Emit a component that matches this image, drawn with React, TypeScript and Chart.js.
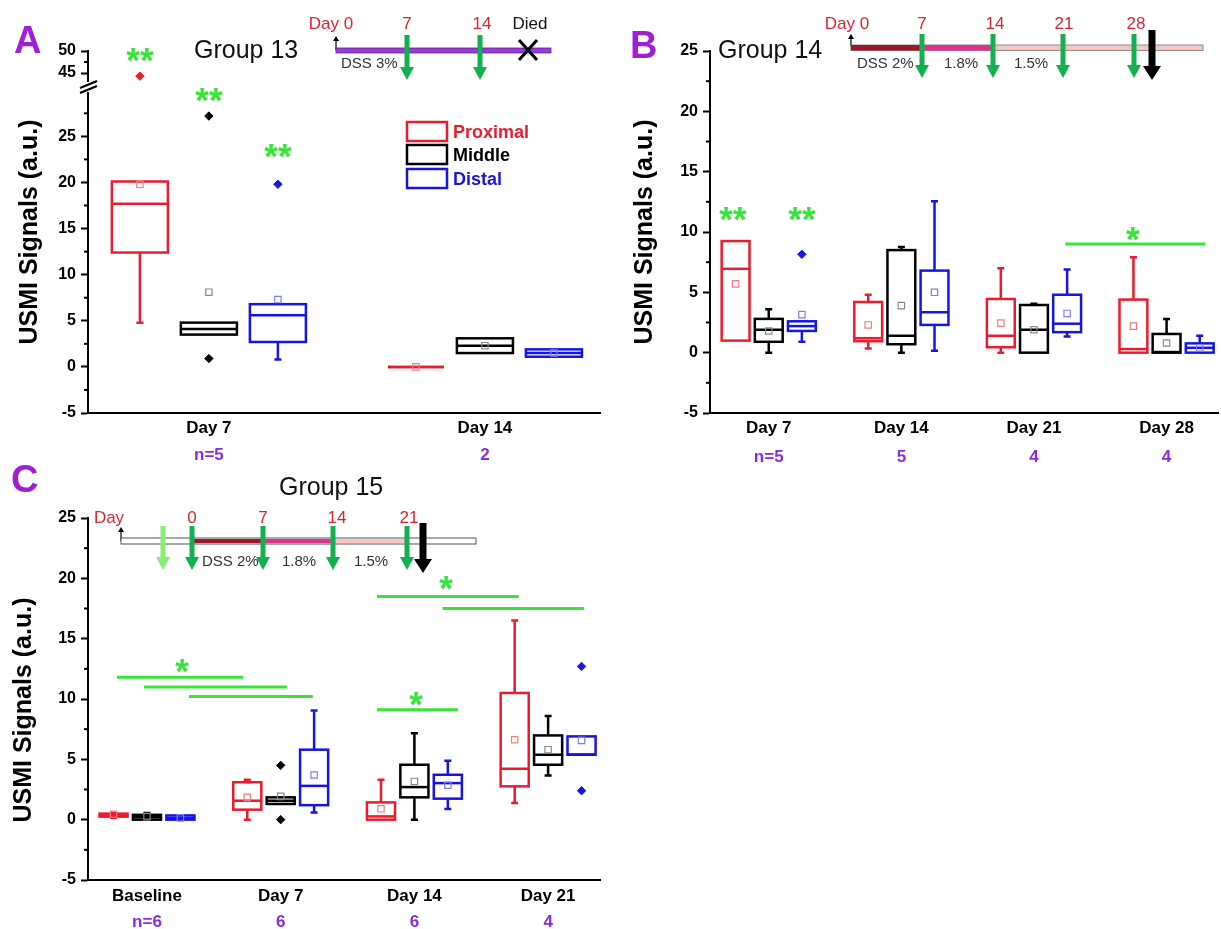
import React, { useEffect, useRef } from 'react';
import { Chart, registerables } from 'chart.js';

Chart.register(...registerables);

const FONT = "'Liberation Sans', Arial, Helvetica, sans-serif";

const seriesNames = ['Proximal', 'Middle', 'Distal'];
const seriesColors = ['#ec1b2e', '#000000', '#1515e8'];
const meanColors = ['#f27b86', '#8a8a8a', '#7f7ff0'];
const seriesOffsets = [-0.25, 0, 0.25];
const SIG_GREEN = '#36e636';
const N_PURPLE = '#8a2be2';
const LETTER_PURPLE = '#a21ed4';
const TL_RED = '#d9252f';
const ARROW_GREEN = '#12b04f';
const LIGHT_GREEN = '#88ee70';

// Box stats per category: [lower whisker, Q1, median, Q3, upper whisker, mean]
// ---- Panel A: Group 13
const categoriesA = ['Day 7', 'Day 14'];
const countsA = ['n=5', '2'];
const proximalA = [[4.8, 12.4, 17.7, 20.1, 20.1, 19.8], [0, 0, 0, 0, 0, 0]];
const middleA = [[3.5, 3.5, 4.1, 4.8, 4.8, 8.1], [1.5, 1.5, 2.3, 3.1, 3.1, 2.3]];
const distalA = [[0.8, 2.7, 5.6, 6.8, 6.8, 7.3], [1.1, 1.1, 1.5, 1.9, 1.9, 1.5]];
// outliers: [category (1-based), value]
const proximalOutliersA = [[1, 44.3]];
const middleOutliersA = [[1, 27.2], [1, 0.9]];
const distalOutliersA = [[1, 19.8]];
const yTicksA = [-5, 0, 5, 10, 15, 20, 25];
const yTicksAUpper = [45, 50];
const starsAUpper = [[0.75, 49.8, '**']];
const starsA = [[1.0, 29.8, '**'], [1.25, 23.8, '**']];

// ---- Panel B: Group 14
const categoriesB = ['Day 7', 'Day 14', 'Day 21', 'Day 28'];
const countsB = ['n=5', '5', '4', '4'];
const proximalB = [[1.0, 1.0, 6.95, 9.25, 9.25, 5.7], [0.35, 0.95, 1.2, 4.2, 4.8, 2.3], [0, 0.45, 1.4, 4.45, 7.0, 2.45], [0, 0, 0.3, 4.4, 7.9, 2.2]];
const middleB = [[0, 0.9, 1.9, 2.8, 3.6, 1.8], [0, 0.7, 1.4, 8.5, 8.75, 3.9], [0, 0, 1.9, 3.95, 4.05, 1.9], [0, 0, 0.05, 1.55, 2.8, 0.8]];
const distalB = [[0.9, 1.8, 2.2, 2.6, 2.6, 3.15], [0.15, 2.3, 3.35, 6.8, 12.55, 5.0], [1.35, 1.7, 2.4, 4.8, 6.9, 3.25], [0, 0, 0.4, 0.77, 1.4, 0.4]];
const distalOutliersB = [[1, 8.15]];
const yTicksB = [-5, 0, 5, 10, 15, 20, 25];
const sigLinesB = [[3.236, 4.293, 9.0]];
const starsB = [[0.73, 11.8, '**'], [1.25, 11.8, '**'], [3.745, 10.1, '*']];

// ---- Panel C: Group 15
const categoriesC = ['Baseline', 'Day 7', 'Day 14', 'Day 21'];
const countsC = ['n=6', '6', '6', '4'];
const proximalC = [[0.15, 0.25, 0.35, 0.5, 0.55, 0.45], [0, 0.83, 1.57, 3.1, 3.3, 1.85], [0, 0, 0.27, 1.43, 3.3, 0.9], [1.38, 2.76, 4.22, 10.5, 16.5, 6.62]];
const middleC = [[0, 0, 0.2, 0.4, 0.55, 0.25], [1.3, 1.3, 1.57, 1.85, 1.85, 1.93], [0, 1.85, 2.7, 4.55, 7.17, 3.17], [3.67, 4.55, 5.38, 6.98, 8.6, 5.8]];
const distalC = [[0, 0, 0.15, 0.35, 0.35, 0.15], [0.6, 1.2, 2.8, 5.8, 9.05, 3.7], [0.88, 1.74, 3.03, 3.72, 4.88, 2.85], [5.38, 5.38, 5.4, 6.9, 6.9, 6.57]];
const middleOutliersC = [[2, 4.5], [2, 0]];
const distalOutliersC = [[4, 12.7], [4, 2.4]];
const yTicksC = [-5, 0, 5, 10, 15, 20, 25];
const sigLinesC = [[0.776, 1.718, 11.8], [0.978, 2.047, 11.0], [1.314, 2.24, 10.2], [2.72, 3.326, 9.1], [2.72, 3.78, 18.5], [3.21, 4.27, 17.5]];
const starsC = [[1.262, 13.0, '*'], [3.012, 10.3, '*'], [3.236, 19.9, '*']];

type Spec = {
  left: number; top: number; w: number; h: number;
  pad: { left: number; top: number; right: number; bottom: number };
  yWidth: number; yMin: number; yMax: number; yTicks: number[];
  xMin: number; xMax: number;
  cats: string[] | null; counts: string[] | null;
  xHeights: number[]; xPads: number[];
  series: number[][][]; outliers: number[][][];
  boxWidth: number;
  sigLines: number[][]; stars: any[][];
  breakMark?: boolean;
};

function makePlugin(p: Spec) {
  return {
    id: 'boxPlot',
    beforeDatasetsDraw(chart: any) {
      const { ctx } = chart;
      const xs = chart.scales.x;
      const ys = chart.scales.y;
      const py = (v: number) => ys.getPixelForValue(v);
      ctx.save();
      p.series.forEach((boxes, s) => {
        ctx.strokeStyle = seriesColors[s];
        boxes.forEach((b, i) => {
          const c = i + 1 + seriesOffsets[s];
          const xc = xs.getPixelForValue(c);
          const xl = xs.getPixelForValue(c - p.boxWidth / 2);
          const xr = xs.getPixelForValue(c + p.boxWidth / 2);
          const [lo, q1, med, q3, hi] = b;
          ctx.lineWidth = 2.5;
          ctx.beginPath();
          if (hi > q3) {
            ctx.moveTo(xc, py(q3)); ctx.lineTo(xc, py(hi));
            ctx.moveTo(xc - 3.5, py(hi)); ctx.lineTo(xc + 3.5, py(hi));
          }
          if (lo < q1) {
            ctx.moveTo(xc, py(q1)); ctx.lineTo(xc, py(lo));
            ctx.moveTo(xc - 3.5, py(lo)); ctx.lineTo(xc + 3.5, py(lo));
          }
          ctx.stroke();
          ctx.strokeRect(xl, py(q3), xr - xl, py(q1) - py(q3));
          ctx.beginPath();
          ctx.moveTo(xl, py(med)); ctx.lineTo(xr, py(med));
          ctx.stroke();
        });
      });
      ctx.restore();
    },
    afterDraw(chart: any) {
      const { ctx, chartArea } = chart;
      const xs = chart.scales.x;
      const ys = chart.scales.y;
      const ax = chartArea.left;
      ctx.save();
      // minor ticks
      ctx.strokeStyle = '#000';
      ctx.lineWidth = 2;
      const minors = p.yTicks.map((v) => v + 2.5).filter((v) => v < p.yMax);
      minors.forEach((v) => {
        const y = ys.getPixelForValue(v);
        ctx.beginPath(); ctx.moveTo(ax - 4, y); ctx.lineTo(ax, y); ctx.stroke();
      });
      // axis break marks
      if (p.breakMark) {
        const b = chartArea.bottom;
        ctx.lineWidth = 2;
        [0, 5].forEach((k) => {
          ctx.beginPath(); ctx.moveTo(ax - 8, b + 7 + k); ctx.lineTo(ax + 9, b + k); ctx.stroke();
        });
      }
      // significance lines
      ctx.strokeStyle = SIG_GREEN;
      ctx.lineWidth = 3;
      p.sigLines.forEach(([x1, x2, v]) => {
        const y = ys.getPixelForValue(v);
        ctx.beginPath(); ctx.moveTo(xs.getPixelForValue(x1), y); ctx.lineTo(xs.getPixelForValue(x2), y); ctx.stroke();
      });
      // stars
      const fs = 35;
      ctx.fillStyle = SIG_GREEN;
      ctx.font = `bold ${fs}px ${FONT}`;
      ctx.textAlign = 'center';
      ctx.textBaseline = 'alphabetic';
      p.stars.forEach(([x, v, txt]) => {
        ctx.fillText(txt, xs.getPixelForValue(x), ys.getPixelForValue(v) + 0.58 * fs);
      });
      ctx.restore();
    },
  };
}

function buildConfig(p: Spec): any {
  const datasets: any[] = [];
  p.series.forEach((boxes, s) => {
    if (!boxes.length) return;
    datasets.push({
      type: 'scatter',
      label: seriesNames[s] + ' mean',
      data: boxes.map((b, i) => ({ x: i + 1 + seriesOffsets[s], y: b[5] })),
      pointStyle: 'rect',
      pointRadius: 4.5,
      pointBorderWidth: 1.2,
      pointBorderColor: meanColors[s],
      pointBackgroundColor: 'rgba(255,255,255,0)',
      borderColor: meanColors[s],
      backgroundColor: 'rgba(255,255,255,0)',
      clip: false,
      xAxisID: 'x',
      yAxisID: 'y',
    });
  });
  p.outliers.forEach((pts, s) => {
    if (!pts.length) return;
    datasets.push({
      type: 'scatter',
      label: seriesNames[s] + ' outliers',
      data: pts.map(([c, v]) => ({ x: c + seriesOffsets[s], y: v })),
      pointStyle: 'rectRot',
      pointRadius: 4.2,
      pointBorderWidth: 1,
      pointBorderColor: seriesColors[s],
      pointBackgroundColor: seriesColors[s],
      borderColor: seriesColors[s],
      backgroundColor: seriesColors[s],
      clip: false,
      xAxisID: 'x',
      yAxisID: 'y',
    });
  });

  const tickFont = { family: FONT, size: 16, weight: 'bold' as const };
  const labelFont = { family: FONT, size: 17, weight: 'bold' as const };
  const cats = p.cats || [];
  const counts = p.counts || [];

  const scales: any = {
    y: {
      type: 'linear',
      position: 'left',
      min: p.yMin,
      max: p.yMax,
      afterBuildTicks: (scale: any) => { scale.ticks = p.yTicks.map((v) => ({ value: v })); },
      afterFit: (scale: any) => { scale.width = p.yWidth; },
      ticks: { autoSkip: false, padding: 5, color: '#000', font: tickFont, callback: (v: any) => String(v) },
      grid: { drawOnChartArea: false, drawTicks: true, tickLength: 7, tickWidth: 2, tickColor: '#000' },
      border: { display: true, color: '#000', width: 2 },
    },
    x: {
      type: 'linear',
      position: 'bottom',
      weight: 0,
      display: !!p.cats,
      min: p.xMin,
      max: p.xMax,
      afterBuildTicks: (scale: any) => { scale.ticks = cats.map((_, i) => ({ value: i + 1 })); },
      afterFit: (scale: any) => { scale.height = p.xHeights[0]; },
      ticks: { autoSkip: false, maxRotation: 0, padding: p.xPads[0], color: '#000', font: labelFont, callback: (v: any) => cats[v - 1] ?? '' },
      grid: { display: false, drawTicks: false },
      border: { display: true, color: '#000', width: 2 },
    },
  };
  if (p.counts) {
    scales.x2 = {
      type: 'linear',
      position: 'bottom',
      weight: 1,
      min: p.xMin,
      max: p.xMax,
      afterBuildTicks: (scale: any) => { scale.ticks = counts.map((_, i) => ({ value: i + 1 })); },
      afterFit: (scale: any) => { scale.height = p.xHeights[1]; },
      ticks: { autoSkip: false, maxRotation: 0, padding: p.xPads[1], color: N_PURPLE, font: labelFont, callback: (v: any) => counts[v - 1] ?? '' },
      grid: { display: false, drawTicks: false },
      border: { display: false },
    };
  }

  return {
    type: 'scatter',
    data: { datasets },
    options: {
      responsive: false,
      animation: false,
      events: [],
      layout: { padding: p.pad },
      plugins: { legend: { display: false }, tooltip: { enabled: false } },
      scales,
    },
    plugins: [makePlugin(p)],
  };
}

const specAUpper: Spec = {
  left: 0, top: 0, w: 610, h: 100,
  pad: { left: 0, top: 51, right: 10, bottom: 19 },
  yWidth: 88, yMin: 43.2, yMax: 50, yTicks: yTicksAUpper,
  xMin: 0.562, xMax: 2.417,
  cats: null, counts: null, xHeights: [0, 0], xPads: [0, 0],
  series: [[], [], []],
  outliers: [proximalOutliersA, [], []],
  boxWidth: 0.203,
  sigLines: [], stars: starsAUpper, breakMark: true,
};

const specALower: Spec = {
  left: 0, top: 0, w: 610, h: 480,
  pad: { left: 0, top: 93, right: 10, bottom: 7 },
  yWidth: 88, yMin: -5, yMax: 29.7, yTicks: yTicksA,
  xMin: 0.562, xMax: 2.417,
  cats: categoriesA, counts: countsA, xHeights: [30, 30], xPads: [5, 2],
  series: [proximalA, middleA, distalA],
  outliers: [[], middleOutliersA, distalOutliersA],
  boxWidth: 0.203,
  sigLines: [], stars: starsA,
};

const specB: Spec = {
  left: 600, top: 0, w: 624, h: 480,
  pad: { left: 0, top: 51, right: 3, bottom: 7 },
  yWidth: 110, yMin: -5, yMax: 25, yTicks: yTicksB,
  xMin: 0.557, xMax: 4.39,
  cats: categoriesB, counts: countsB, xHeights: [30, 30], xPads: [5, 4],
  series: [proximalB, middleB, distalB],
  outliers: [[], [], distalOutliersB],
  boxWidth: 0.21,
  sigLines: sigLinesB, stars: starsB,
};

const specC: Spec = {
  left: 0, top: 470, w: 610, h: 459,
  pad: { left: 0, top: 48, right: 10, bottom: 0 },
  yWidth: 88, yMin: -5, yMax: 25, yTicks: yTicksC,
  xMin: 0.559, xMax: 4.388,
  cats: categoriesC, counts: countsC, xHeights: [26, 23], xPads: [6, 6],
  series: [proximalC, middleC, distalC],
  outliers: [[], middleOutliersC, distalOutliersC],
  boxWidth: 0.21,
  sigLines: sigLinesC, stars: starsC,
};

function BoxChart({ spec }: { spec: Spec }) {
  const ref = useRef<HTMLCanvasElement>(null);
  useEffect(() => {
    if (!ref.current) return;
    const chart = new Chart(ref.current, buildConfig(spec));
    return () => chart.destroy();
  }, [spec]);
  return (
    <canvas
      ref={ref}
      width={spec.w}
      height={spec.h}
      style={{ position: 'absolute', left: spec.left, top: spec.top, width: spec.w, height: spec.h }}
    />
  );
}

function DownArrow({ x, y1, y2, color, shaft = 5, head = 14, headLen = 13 }: any) {
  const yh = y2 - headLen;
  const pts = `${x - shaft / 2},${y1} ${x + shaft / 2},${y1} ${x + shaft / 2},${yh} ${x + head / 2},${yh} ${x},${y2} ${x - head / 2},${yh} ${x - shaft / 2},${yh}`;
  return <polygon points={pts} fill={color} />;
}

function UpTick({ x, y1, y2 }: any) {
  return (
    <g>
      <line x1={x} y1={y1} x2={x} y2={y2 + 3} stroke="#000" strokeWidth={1.2} />
      <polygon points={`${x - 3},${y2 + 5} ${x + 3},${y2 + 5} ${x},${y2}`} fill="#000" />
    </g>
  );
}

function Decorations() {
  const yTitles = [[28, 232], [643, 232], [22, 710]];
  const legendRows = [121, 144, 168];
  return (
    <svg
      width={1221}
      height={929}
      style={{ position: 'absolute', left: 0, top: 0, pointerEvents: 'none' }}
      fontFamily={FONT}
    >
      {/* panel letters */}
      <text x={14} y={53} fontSize={38} fontWeight="bold" fill={LETTER_PURPLE}>A</text>
      <text x={630} y={58} fontSize={38} fontWeight="bold" fill={LETTER_PURPLE}>B</text>
      <text x={11} y={492} fontSize={38} fontWeight="bold" fill={LETTER_PURPLE}>C</text>
      {/* group titles */}
      <text x={194} y={58} fontSize={25} fill="#111">Group 13</text>
      <text x={718} y={58} fontSize={25} fill="#111">Group 14</text>
      <text x={279} y={495} fontSize={25} fill="#111">Group 15</text>
      {/* y axis titles */}
      {yTitles.map(([x, y], i) => (
        <text key={i} transform={`translate(${x},${y}) rotate(-90)`} textAnchor="middle" dominantBaseline="central" fontSize={25} fontWeight="bold" fill="#000">
          USMI Signals (a.u.)
        </text>
      ))}
      {/* legend (panel A) */}
      {seriesNames.map((name, i) => (
        <g key={name}>
          <rect x={407} y={legendRows[i] + 1} width={40} height={19} fill="none" stroke={seriesColors[i]} strokeWidth={2.5} />
          <text x={453} y={legendRows[i] + 16.5} fontSize={18} fontWeight="bold" fill={seriesColors[i]}>{name}</text>
        </g>
      ))}

      {/* timeline A */}
      <UpTick x={336} y1={50} y2={36} />
      <rect x={336} y={48} width={215} height={5} fill="#9b3bd8" stroke="#5d2590" strokeWidth={0.8} />
      <DownArrow x={407} y1={35} y2={80} color={ARROW_GREEN} />
      <DownArrow x={480} y1={35} y2={80} color={ARROW_GREEN} />
      <line x1={519} y1={40} x2={537} y2={60} stroke="#000" strokeWidth={3} />
      <line x1={537} y1={40} x2={519} y2={60} stroke="#000" strokeWidth={3} />
      <text x={331} y={29} fontSize={17} fill={TL_RED} textAnchor="middle">Day 0</text>
      <text x={407} y={29} fontSize={17} fill={TL_RED} textAnchor="middle">7</text>
      <text x={482} y={29} fontSize={17} fill={TL_RED} textAnchor="middle">14</text>
      <text x={530} y={29} fontSize={17} fill="#111" textAnchor="middle">Died</text>
      <text x={341} y={68} fontSize={15} fill="#333">DSS 3%</text>

      {/* timeline B */}
      <UpTick x={851} y1={47} y2={34} />
      <rect x={851} y={45} width={352} height={5.5} fill="#f8c6c6" stroke="#8d8d8d" strokeWidth={1} />
      <rect x={851} y={45} width={71} height={5.5} fill="#a31329" />
      <rect x={922} y={45} width={71} height={5.5} fill="#e2318c" />
      {[922, 993, 1063, 1134].map((x) => (
        <DownArrow key={x} x={x} y1={34} y2={78} color={ARROW_GREEN} />
      ))}
      <DownArrow x={1152} y1={30} y2={80} color="#000" shaft={7} head={18} headLen={14} />
      <text x={847} y={29} fontSize={17} fill={TL_RED} textAnchor="middle">Day 0</text>
      <text x={922} y={29} fontSize={17} fill={TL_RED} textAnchor="middle">7</text>
      <text x={995} y={29} fontSize={17} fill={TL_RED} textAnchor="middle">14</text>
      <text x={1064} y={29} fontSize={17} fill={TL_RED} textAnchor="middle">21</text>
      <text x={1136} y={29} fontSize={17} fill={TL_RED} textAnchor="middle">28</text>
      <text x={857} y={68} fontSize={15} fill="#333">DSS 2%</text>
      <text x={961} y={68} fontSize={15} fill="#333" textAnchor="middle">1.8%</text>
      <text x={1031} y={68} fontSize={15} fill="#333" textAnchor="middle">1.5%</text>

      {/* timeline C */}
      <UpTick x={121} y1={541} y2={527} />
      <rect x={121} y={538} width={355} height={6} fill="#fff" stroke="#555" strokeWidth={1} />
      <rect x={192} y={539} width={71} height={4} fill="#a31329" />
      <rect x={263} y={539} width={70} height={4} fill="#e2318c" />
      <rect x={333} y={539} width={74} height={4} fill="#f8c6c6" />
      <DownArrow x={163} y1={526} y2={570} color={LIGHT_GREEN} />
      {[192, 263, 333, 407].map((x) => (
        <DownArrow key={x} x={x} y1={526} y2={570} color={ARROW_GREEN} />
      ))}
      <DownArrow x={423} y1={523} y2={573} color="#000" shaft={7} head={18} headLen={14} />
      <text x={109} y={523} fontSize={17} fill={TL_RED} textAnchor="middle">Day</text>
      <text x={192} y={523} fontSize={17} fill={TL_RED} textAnchor="middle">0</text>
      <text x={263} y={523} fontSize={17} fill={TL_RED} textAnchor="middle">7</text>
      <text x={337} y={523} fontSize={17} fill={TL_RED} textAnchor="middle">14</text>
      <text x={409} y={523} fontSize={17} fill={TL_RED} textAnchor="middle">21</text>
      <text x={202} y={566} fontSize={15} fill="#333">DSS 2%</text>
      <text x={299} y={566} fontSize={15} fill="#333" textAnchor="middle">1.8%</text>
      <text x={371} y={566} fontSize={15} fill="#333" textAnchor="middle">1.5%</text>
    </svg>
  );
}

export default function App() {
  return (
    <div style={{ position: 'absolute', left: 0, top: 0, width: 1221, height: 929, overflow: 'hidden', background: '#fff' }}>
      <BoxChart spec={specALower} />
      <BoxChart spec={specAUpper} />
      <BoxChart spec={specB} />
      <BoxChart spec={specC} />
      <Decorations />
    </div>
  );
}
